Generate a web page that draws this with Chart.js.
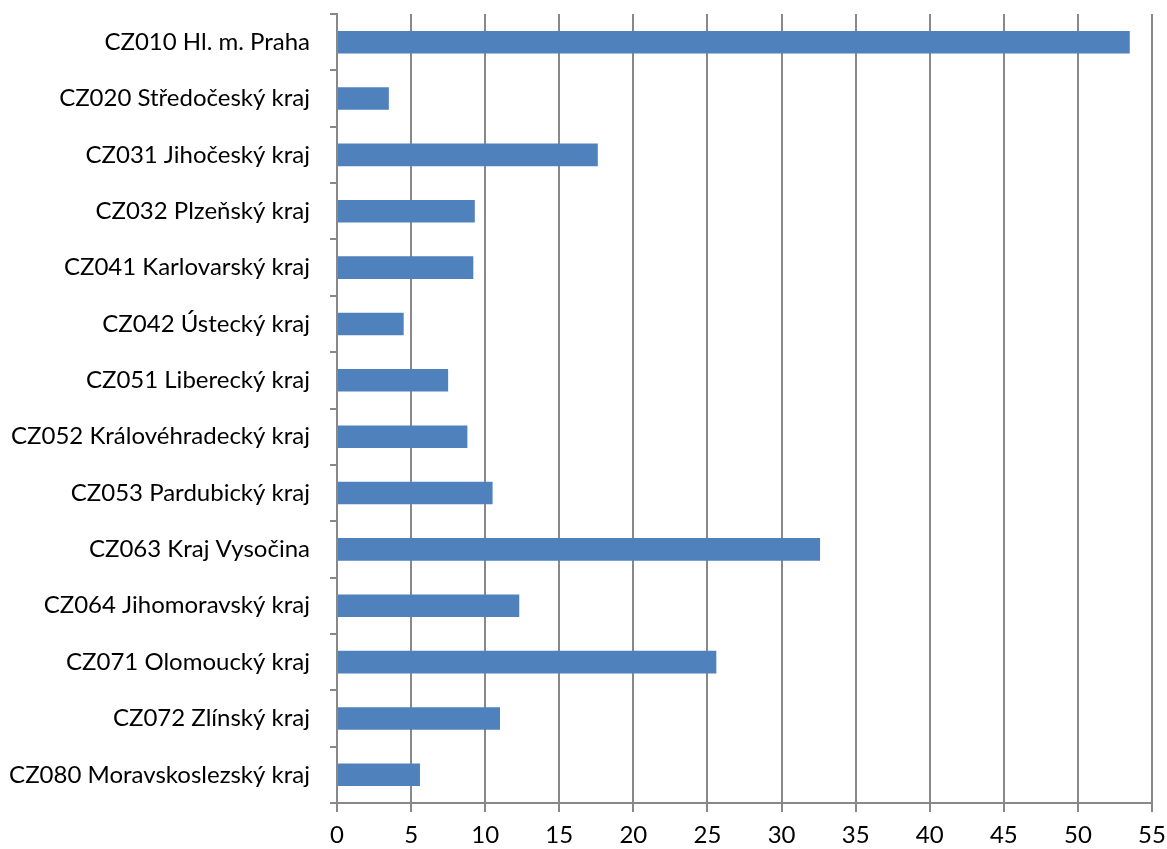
<!DOCTYPE html>
<html>
<head>
<meta charset="utf-8">
<script src="https://cdn.jsdelivr.net/npm/chart.js@4"></script>
<style>
    html, body { margin: 0; padding: 0; background: #fff; }
    #wrap { width: 1167px; height: 849px; }
</style>
</head>
<body>
<div id="wrap"><canvas id="regionChart" width="1167" height="849"></canvas></div>
<script>
const regions = [
    'CZ010 Hl. m. Praha',
    'CZ020 Středočeský kraj',
    'CZ031 Jihočeský kraj',
    'CZ032 Plzeňský kraj',
    'CZ041 Karlovarský kraj',
    'CZ042 Ústecký kraj',
    'CZ051 Liberecký kraj',
    'CZ052 Královéhradecký kraj',
    'CZ053 Pardubický kraj',
    'CZ063 Kraj Vysočina',
    'CZ064 Jihomoravský kraj',
    'CZ071 Olomoucký kraj',
    'CZ072 Zlínský kraj',
    'CZ080 Moravskoslezský kraj',
];
const values = [53.5, 3.5, 17.6, 9.3, 9.2, 4.5, 7.5, 8.8, 10.5, 32.6, 12.3, 25.6, 11.0, 5.6];
const xMin = 0;
const xMax = 55;
const xStep = 5;

const gridColor = '#888888';
const labelFont = { family: 'Lato', size: 24 };

new Chart(document.getElementById('regionChart'), {
    type: 'bar',
    data: {
        labels: regions,
        datasets: [{
            data: values,
            backgroundColor: '#4F81BD',
            borderWidth: 0,
            barPercentage: 0.4,
            categoryPercentage: 1,
        }],
    },
    options: {
        indexAxis: 'y',
        responsive: false,
        animation: false,
        layout: { padding: { top: 14, right: 15, left: 0, bottom: 0 } },
        plugins: { legend: { display: false }, tooltip: { enabled: false } },
        scales: {
            x: {
                min: xMin,
                max: xMax,
                ticks: { stepSize: xStep, color: '#000', font: labelFont, padding: 9 },
                grid: { color: gridColor, lineWidth: 2, tickLength: 9 },
                border: { color: gridColor, width: 2 },
                afterFit: s => {
                    s.height = 46;
                    s.paddingLeft = 0;
                    s.paddingRight = 0;
                },
            },
            y: {
                ticks: { color: '#000', font: labelFont, padding: 20, autoSkip: false },
                grid: { color: gridColor, lineWidth: 2, drawOnChartArea: false, tickLength: 7 },
                border: { color: gridColor, width: 2 },
                afterFit: s => {
                    s.width = 337;
                    s.paddingTop = 0;
                    s.paddingBottom = 0;
                },
            },
        },
    },
});
</script>
</body>
</html>
